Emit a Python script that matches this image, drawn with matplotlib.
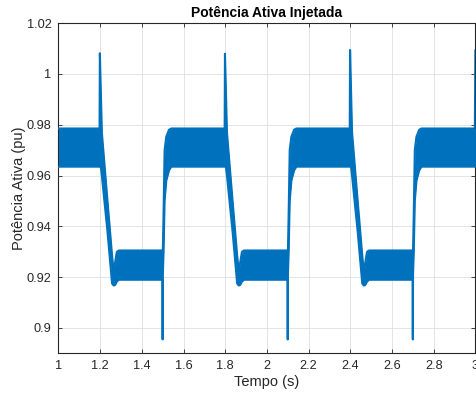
import matplotlib
matplotlib.use("Agg")
import matplotlib.pyplot as plt

plt.rcParams['font.family'] = ['Liberation Sans', 'DejaVu Sans']

# Envelope of the oscillating signal
tempo = [1.000, 1.197, 1.1985, 1.203, 1.208, 1.235, 1.257, 1.265, 1.272, 1.280, 1.290,
         1.4985, 1.4995, 1.5005, 1.504, 1.509, 1.517, 1.530, 1.541,
         1.797, 1.7985, 1.803, 1.808, 1.835, 1.857, 1.865, 1.872, 1.880, 1.890,
         2.0985, 2.0995, 2.1005, 2.104, 2.109, 2.117, 2.130, 2.141,
         2.397, 2.3985, 2.403, 2.408, 2.435, 2.457, 2.465, 2.472, 2.480, 2.490,
         2.6985, 2.6995, 2.7005, 2.704, 2.709, 2.717, 2.730, 2.741,
         2.997, 2.9995, 3.000]
p_sup = [0.9785, 0.9785, 1.0081, 0.9934, 0.977, 0.950, 0.9285, 0.922, 0.926, 0.930, 0.9305,
         0.9305, 0.9300, 0.9300, 0.945, 0.970, 0.9753, 0.978, 0.9785,
         0.9785, 1.0079, 0.9934, 0.977, 0.950, 0.9285, 0.922, 0.926, 0.930, 0.9305,
         0.9305, 0.9300, 0.9300, 0.945, 0.970, 0.9753, 0.978, 0.9785,
         0.9785, 1.0094, 0.9940, 0.977, 0.950, 0.9285, 0.922, 0.926, 0.930, 0.9305,
         0.9305, 0.9300, 0.9300, 0.945, 0.970, 0.9753, 0.978, 0.9785,
         0.9785, 1.0094, 1.0094]
p_inf = [0.9635, 0.9635, 0.9635, 0.9635, 0.960, 0.938, 0.9175, 0.9167, 0.917, 0.9183, 0.919,
         0.919, 0.8955, 0.921, 0.930, 0.950, 0.958, 0.962, 0.9635,
         0.9635, 0.9635, 0.9635, 0.960, 0.938, 0.9175, 0.9167, 0.917, 0.9183, 0.919,
         0.919, 0.8955, 0.921, 0.930, 0.950, 0.958, 0.962, 0.9635,
         0.9635, 0.9635, 0.9635, 0.960, 0.938, 0.9175, 0.9167, 0.917, 0.9183, 0.919,
         0.919, 0.8955, 0.921, 0.930, 0.950, 0.958, 0.962, 0.9635,
         0.9635, 0.9635, 0.9635]

x_ticks = [1, 1.2, 1.4, 1.6, 1.8, 2, 2.2, 2.4, 2.6, 2.8, 3]
x_labels = ['1', '1.2', '1.4', '1.6', '1.8', '2', '2.2', '2.4', '2.6', '2.8', '3']
y_ticks = [0.9, 0.92, 0.94, 0.96, 0.98, 1.0, 1.02]
y_labels = ['0.9', '0.92', '0.94', '0.96', '0.98', '1', '1.02']

cor = '#0072BD'
cinza = '#262626'

fig = plt.figure(figsize=(4.77, 3.97), dpi=100)
ax = fig.add_axes([0.1226, 0.1098, 0.8742, 0.8322])

ax.fill_between(tempo, p_inf, p_sup, color=cor, linewidth=0, zorder=3)
ax.plot(tempo, p_sup, color=cor, linewidth=1.5, zorder=3)
ax.plot(tempo, p_inf, color=cor, linewidth=1.5, zorder=3)

ax.set_xlim(1, 3)
ax.set_ylim(0.89, 1.02)
ax.set_xticks(x_ticks)
ax.set_xticklabels(x_labels)
ax.set_yticks(y_ticks)
ax.set_yticklabels(y_labels)

ax.grid(True, color='#DFDFDF', linewidth=0.6, zorder=0)
ax.set_axisbelow(True)
ax.tick_params(direction='in', length=3, width=0.6, colors=cinza, labelsize=9.2,
               top=True, right=True, pad=5)
for s in ax.spines.values():
    s.set_color(cinza)
    s.set_linewidth(0.8)

ax.set_title('Potência Ativa Injetada', fontsize=10, fontweight='bold', pad=4)
ax.set_xlabel('Tempo (s)', fontsize=10.5, color=cinza, labelpad=2)
ax.set_ylabel('Potência Ativa (pu)', fontsize=10.5, color=cinza, labelpad=0.5)

fig.savefig('out.png', dpi=100)
